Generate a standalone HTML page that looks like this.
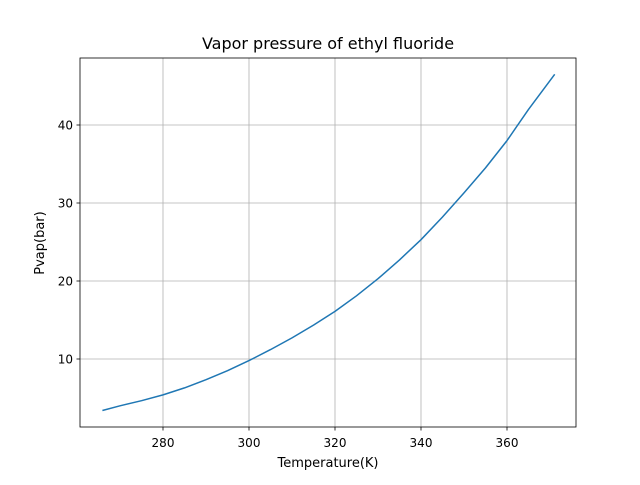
<!DOCTYPE html>
<html><head><meta charset="utf-8"><style>
body{margin:0;background:#fff;font-family:"Liberation Sans","DejaVu Sans",sans-serif;}
svg text{font-family:"DejaVu Sans","Liberation Sans",sans-serif;}
</style></head><body>
<svg id="chart" width="640" height="480" viewBox="0 0 640 480">
<rect width="640" height="480" fill="#fff"/>
<g id="grid"></g>
<g id="series"></g>
<rect x="80" y="58" width="496" height="369" fill="none" stroke="#000" stroke-width="0.8"/>
<g id="ticks"></g>
<text x="328" y="49" font-size="16" text-anchor="middle">Vapor pressure of ethyl fluoride</text>
<text x="328" y="467" font-size="13" text-anchor="middle">Temperature(K)</text>
<text transform="translate(44,243) rotate(-90)" font-size="13" text-anchor="middle">Pvap(bar)</text>
</svg>
<script>
const temps=[265.9,270,275,280,285,290,295,300,305,310,315,320,325,330,335,340,345,350,355,360,365,371.1];
const pressures=[3.4,4.0,4.65,5.4,6.3,7.35,8.5,9.8,11.2,12.7,14.35,16.1,18.1,20.3,22.7,25.3,28.2,31.3,34.5,38.0,42.0,46.5];
const xTicks=[280,300,320,340,360];
const yTicks=[10,20,30,40];
const NS="http://www.w3.org/2000/svg";
const xs=t=>249+(t-300)*4.3;
const ys=p=>359-(p-10)*7.8;
const grid=document.getElementById('grid'),ticks=document.getElementById('ticks'),series=document.getElementById('series');
function mk(tag,attrs,parent){const e=document.createElementNS(NS,tag);for(const k in attrs)e.setAttribute(k,attrs[k]);parent.appendChild(e);return e;}
xTicks.forEach(v=>{
const x=xs(v);
const g=mk('line',{x1:x,x2:x,y1:58,y2:427,stroke:'#b0b0b0','stroke-width':0.8},grid);


const t=mk('line',{x1:x,x2:x,y1:427,y2:430.5,stroke:'#000','stroke-width':0.8},ticks);


const l=mk('text',{x:x,y:447,'font-size':12,'text-anchor':'middle'},ticks);l.textContent=v;


});
yTicks.forEach(v=>{
const y=ys(v);
const g=mk('line',{x1:80,x2:576,y1:y,y2:y,stroke:'#b0b0b0','stroke-width':0.8},grid);


const t=mk('line',{x1:76.5,x2:80,y1:y,y2:y,stroke:'#000','stroke-width':0.8},ticks);


const l=mk('text',{x:73,y:y+4.5,'font-size':12,'text-anchor':'end'},ticks);l.textContent=v;


});
const d=temps.map((t,i)=>(i?'L':'M')+xs(t).toFixed(1)+','+ys(pressures[i]).toFixed(1)).join(' ');
const p=mk('path',{d:d,fill:'none',stroke:'#1f77b4','stroke-width':1.5,'stroke-linejoin':'round'},series);


</script>
</body></html>
